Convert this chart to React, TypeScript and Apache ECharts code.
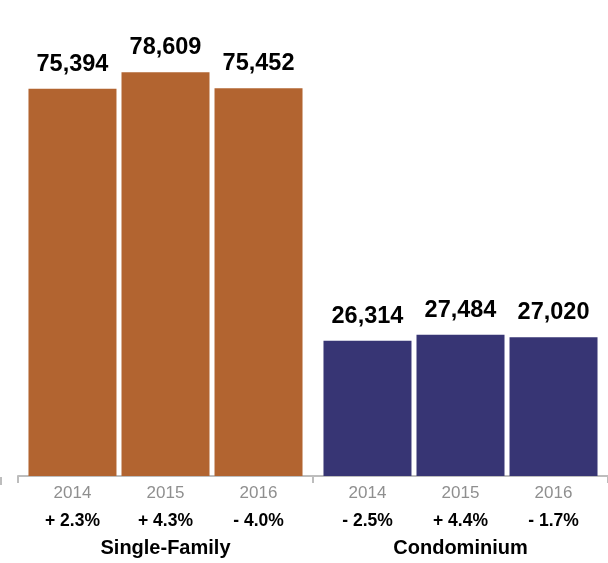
import React, { useEffect, useRef } from "react";
import * as echarts from "echarts";

const groups = ["Single-Family", "Condominium"];
const years = ["2014", "2015", "2016"];
// values per year, one array per group
const singleFamily = [75394, 78609, 75452];
const condominium = [26314, 27484, 27020];
const singleFamilyChange = ["+ 2.3%", "+ 4.3%", "- 4.0%"];
const condominiumChange = ["- 2.5%", "+ 4.4%", "- 1.7%"];
const groupColors = ["#B26430", "#373574"];

const FONT = "'Liberation Sans', Arial, Helvetica, sans-serif";

export default function App() {
  const ref = useRef<HTMLDivElement>(null);
  useEffect(() => {
    if (!ref.current) return;
    const chart = echarts.init(ref.current, undefined, { renderer: "svg" });
    const series: any[] = [];
    years.forEach((yr, i) => {
      const changes = [singleFamilyChange[i], condominiumChange[i]];
      series.push({
        name: yr + "-label",
        type: "bar",
        stack: "s" + yr,
        barWidth: 88,
        barGap: "5.7%",
        data: [0, 0],
        itemStyle: { color: "transparent" },
        label: {
          show: true,
          position: "bottom",
          distance: 3,
          formatter: (p: any) => `{y|${yr}}\n{p|${changes[p.dataIndex]}}`,
          rich: {
            y: { fontFamily: FONT, fontSize: 17, color: "#8f8f8f", lineHeight: 27 },
            p: { fontFamily: FONT, fontSize: 17.5, fontWeight: "bold", color: "#000", lineHeight: 27 },
          },
        },
        silent: true,
      });
      series.push({
        name: yr,
        type: "bar",
        stack: "s" + yr,
        barWidth: 88,
        barGap: "5.7%",
        data: [singleFamily[i], condominium[i]].map((v, g) => ({
          value: v,
          itemStyle: { color: groupColors[g] },
        })),
        label: {
          show: true,
          position: "top",
          distance: 14,
          fontFamily: FONT,
          fontSize: 23.5,
          fontWeight: "bold",
          color: "#000",
          formatter: (p: any) => Number(p.value).toLocaleString("en-US"),
        },
      });
    });
    chart.setOption({
      animation: false,
      grid: { left: 18, width: 590, top: 65, bottom: 87, containLabel: false },
      xAxis: {
        type: "category",
        data: groups,
        axisLine: { show: true, lineStyle: { color: "#bdbdbd", width: 2 } },
        axisTick: { show: true, length: 7, lineStyle: { color: "#bdbdbd", width: 2 } },
        axisLabel: {
          margin: 61,
          fontFamily: FONT,
          fontSize: 20,
          fontWeight: "bold",
          color: "#000",
        },
      },
      yAxis: { type: "value", min: 0, max: 80000, show: false, splitLine: { show: false } },
      graphic: [
        {
          type: "rect",
          shape: { x: 0, y: 477, width: 2, height: 8 },
          style: { fill: "#bdbdbd" },
        },
      ],
      series,
    });
    return () => chart.dispose();
  }, []);
  return (
    <div
      ref={ref}
      style={{ position: "fixed", left: 0, top: 0, width: 608, height: 563 }}
    />
  );
}
